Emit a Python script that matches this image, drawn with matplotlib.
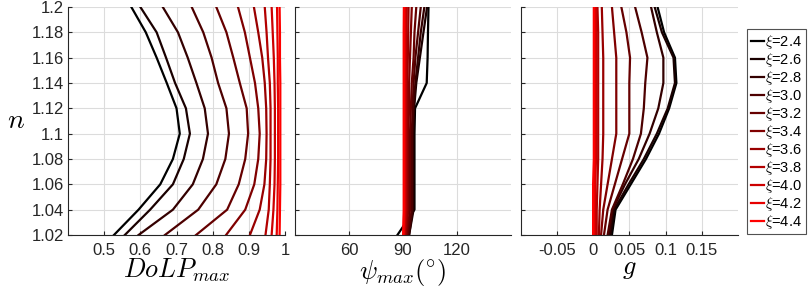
import numpy as np
import matplotlib
matplotlib.use('Agg')
import matplotlib.pyplot as plt
from matplotlib.ticker import FuncFormatter

plt.rcParams['font.family'] = ['Liberation Sans', 'DejaVu Sans']
plt.rcParams['mathtext.fontset'] = 'cm'

# refractive index samples (y axis)
n = [1.02, 1.04, 1.06, 1.08, 1.10, 1.12, 1.14, 1.16, 1.18, 1.20]
xi = [2.4, 2.6, 2.8, 3.0, 3.2, 3.4, 3.6, 3.8, 4.0, 4.2, 4.4]

# DoLP_max per xi, along n
dolp = [
    [0.527, 0.595, 0.655, 0.690, 0.709, 0.700, 0.673, 0.645, 0.615, 0.575],
    [0.557, 0.627, 0.690, 0.720, 0.737, 0.726, 0.696, 0.671, 0.645, 0.600],
    [0.595, 0.690, 0.745, 0.773, 0.787, 0.778, 0.755, 0.731, 0.704, 0.662],
    [0.668, 0.760, 0.810, 0.835, 0.845, 0.838, 0.815, 0.797, 0.774, 0.742],
    [0.754, 0.840, 0.872, 0.890, 0.898, 0.894, 0.875, 0.857, 0.838, 0.810],
    [0.837, 0.890, 0.915, 0.926, 0.930, 0.926, 0.917, 0.903, 0.889, 0.870],
    [0.903, 0.930, 0.943, 0.948, 0.949, 0.948, 0.944, 0.937, 0.926, 0.914],
    [0.946, 0.955, 0.958, 0.960, 0.960, 0.960, 0.958, 0.953, 0.949, 0.944],
    [0.963, 0.968, 0.971, 0.972, 0.972, 0.972, 0.971, 0.969, 0.966, 0.963],
    [0.977, 0.979, 0.980, 0.981, 0.981, 0.981, 0.980, 0.980, 0.979, 0.978],
    [0.985, 0.986, 0.987, 0.987, 0.987, 0.987, 0.987, 0.986, 0.986, 0.985],
]

# psi_max (deg)
psi = [
    [87.0, 96.5, 96.5, 96.5, 96.5, 96.8, 103.3, 103.8, 104.0, 104.3],
    [93.5, 96.0, 96.0, 96.0, 96.0, 96.3, 97.5, 99.5, 101.5, 103.5],
    [93.5, 95.5, 95.5, 95.5, 95.5, 96.0, 97.0, 98.5, 100.0, 102.0],
    [93.0, 95.0, 95.0, 95.0, 95.0, 95.5, 96.0, 97.0, 98.5, 100.0],
    [92.5, 94.0, 94.0, 94.0, 94.0, 94.5, 95.0, 96.0, 96.5, 97.5],
    [92.0, 93.0, 93.0, 93.0, 93.0, 93.5, 93.5, 94.0, 94.5, 95.0],
    [91.5, 92.3, 92.3, 92.3, 92.3, 92.5, 92.5, 92.8, 93.0, 93.2],
    [91.0, 91.7, 91.7, 91.7, 91.7, 91.8, 91.8, 92.0, 92.0, 92.2],
    [90.7, 91.2, 91.2, 91.2, 91.2, 91.2, 91.3, 91.3, 91.4, 91.5],
    [90.4, 90.8, 90.8, 90.8, 90.8, 90.8, 90.8, 90.9, 90.9, 91.0],
    [90.2, 90.5, 90.5, 90.5, 90.5, 90.5, 90.5, 90.5, 90.5, 90.6],
]

# asymmetry g
g = [
    [0.026, 0.031, 0.052, 0.073, 0.091, 0.105, 0.115, 0.113, 0.098, 0.089],
    [0.024, 0.029, 0.049, 0.070, 0.088, 0.103, 0.113, 0.111, 0.095, 0.085],
    [0.022, 0.027, 0.044, 0.063, 0.078, 0.090, 0.097, 0.097, 0.088, 0.080],
    [0.020, 0.026, 0.041, 0.055, 0.066, 0.070, 0.072, 0.075, 0.067, 0.058],
    [0.015, 0.020, 0.030, 0.040, 0.050, 0.050, 0.050, 0.051, 0.046, 0.039],
    [0.011, 0.014, 0.020, 0.026, 0.032, 0.032, 0.032, 0.032, 0.029, 0.026],
    [0.008, 0.009, 0.011, 0.013, 0.014, 0.014, 0.014, 0.014, 0.013, 0.012],
    [0.005, 0.005, 0.006, 0.007, 0.007, 0.007, 0.007, 0.007, 0.007, 0.006],
    [0.003, 0.003, 0.003, 0.004, 0.004, 0.004, 0.004, 0.004, 0.004, 0.004],
    [0.001, 0.001, 0.002, 0.002, 0.002, 0.002, 0.002, 0.002, 0.002, 0.002],
    [0.000, 0.000, 0.000, 0.001, 0.001, 0.001, 0.001, 0.001, 0.001, 0.001],
]

colors = [(k / 10.0, 0, 0) for k in range(len(xi))]

fig = plt.figure(figsize=(8.09, 2.87), dpi=100)
pos = [[0.0841, 0.1812, 0.2682, 0.7944],
       [0.3646, 0.1812, 0.2666, 0.7944],
       [0.6436, 0.1812, 0.2686, 0.7944]]
data = [dolp, psi, g]
xlims = [(0.4, 1.0), (30, 150), (-0.1, 0.2)]
xticks = [[0.5, 0.6, 0.7, 0.8, 0.9, 1.0], [60, 90, 120], [-0.05, 0, 0.05, 0.1, 0.15]]
xlabels = [r'$DoLP_{max}$', r'$\psi_{max}(^{\circ})$', r'$g$']

fmt = FuncFormatter(lambda v, p: ('%g' % v))
axes = []
for i in range(3):
    ax = fig.add_axes(pos[i])
    for k in range(len(xi)):
        ax.plot(data[i][k], n, '-', color=colors[k], lw=1.6, label=r'$\xi$=%.1f' % xi[k])
    ax.set_xlim(xlims[i])
    ax.set_ylim(1.02, 1.2)
    ax.set_xticks(xticks[i])
    ax.set_yticks(np.arange(1.02, 1.2001, 0.02))
    ax.xaxis.set_major_formatter(fmt)
    ax.yaxis.set_major_formatter(fmt)
    ax.grid(True, color='#dcdcdc', lw=0.8)
    ax.set_axisbelow(True)
    ax.spines['top'].set_visible(False)
    ax.spines['right'].set_visible(False)
    ax.spines['left'].set_color('#262626')
    ax.spines['bottom'].set_color('#262626')
    ax.tick_params(direction='in', length=3, labelsize=12, colors='#262626')
    ax.tick_params(axis='y', pad=3)
    ax.tick_params(axis='x', pad=6)
    ax.set_xlabel(xlabels[i], fontsize=19, labelpad=-1)
    if i > 0:
        ax.set_yticklabels([])
    axes.append(ax)

axes[0].set_ylabel(r'$n$', fontsize=20, rotation=0, labelpad=11, va='center')

leg = axes[2].legend(loc='upper left', bbox_to_anchor=(0.9234, 0.899), bbox_transform=fig.transFigure,
                     fontsize=10.5, frameon=True, fancybox=False, handlelength=0.9, handletextpad=0.1,
                     labelspacing=0.0, borderpad=0.25, borderaxespad=0)
leg.get_frame().set_edgecolor('#262626')
leg.get_frame().set_linewidth(0.8)

fig.savefig('out.png', dpi=100)
